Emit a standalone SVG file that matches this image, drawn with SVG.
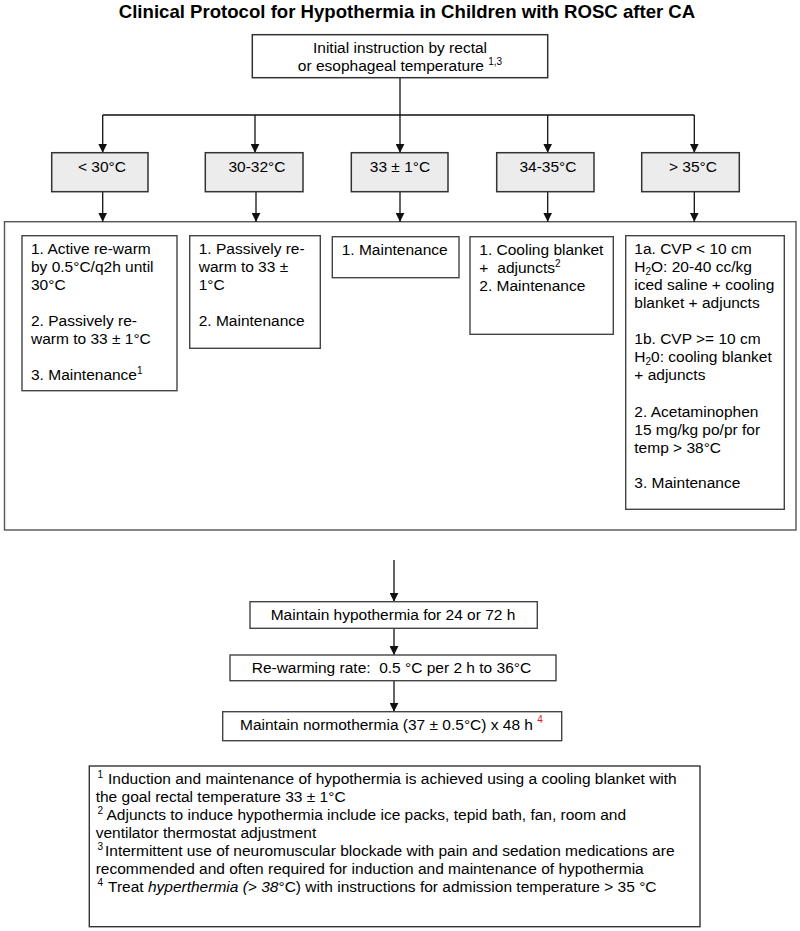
<svg xmlns="http://www.w3.org/2000/svg" width="800" height="931" viewBox="0 0 800 931">
<style>
text{font-family:"Liberation Sans",Arial,Helvetica,sans-serif;font-size:15.5px;fill:#000}
.title{font-size:18.6px;font-weight:bold}
.c{text-anchor:middle}
.sup{font-size:10px}
.temp rect{fill:#ececec;stroke:#333;stroke-width:1.5}
.box{fill:#fff;stroke:#444;stroke-width:1.4}
.big{fill:#fff;stroke:#555;stroke-width:1.4}
.ln{stroke:#111;stroke-width:1.3;fill:none}
.ar{stroke:#111;stroke-width:1.3;fill:none;marker-end:url(#ah)}
</style>
<defs>
<marker id="ah" markerUnits="userSpaceOnUse" markerWidth="9" markerHeight="9" viewBox="0 0 9 9" refX="9" refY="4.5" orient="auto">
<path d="M0,0 L9,4.5 L0,9 z" fill="#111"/>
</marker>
</defs>
<rect width="800" height="931" fill="#fff"/>
<text class="title c" x="407" y="17.5">Clinical Protocol for Hypothermia in Children with ROSC after CA</text>

<g id="big-box"><rect class="big" x="4.5" y="221.7" width="791.5" height="308.3"/></g>

<g id="connectors">
<path class="ln" d="M400,77.7 V115 M102.7,115 H694.3"/>
<path class="ar" d="M102.7,115 V152.7"/>
<path class="ar" d="M255,115 V152.7"/>
<path class="ar" d="M400,115 V152.7"/>
<path class="ar" d="M547.7,115 V152.7"/>
<path class="ar" d="M694.3,115 V152.7"/>
<path class="ar" d="M102.7,191.7 V221.7"/>
<path class="ar" d="M256,191.7 V221.7"/>
<path class="ar" d="M400,191.7 V221.7"/>
<path class="ar" d="M547.7,191.7 V221.7"/>
<path class="ar" d="M694.3,191.7 V221.7"/>
<path class="ar" d="M394,560 V601.7"/>
<path class="ar" d="M394,628.3 V655"/>
<path class="ar" d="M394,680.7 V711.7"/>
</g>

<g id="start">
<rect class="box" x="252.3" y="34.7" width="295.4" height="43" style="stroke:#333;stroke-width:1.5"/>
<text class="c" x="400" y="52.7">Initial instruction by rectal</text>
<text class="c" x="400" y="70.7">or esophageal temperature <tspan class="sup" dy="-6">1,3</tspan></text>
</g>

<g id="t1" class="temp"><rect x="51.7" y="152.7" width="96.3" height="39"/><text class="c" x="102" y="171.5">&lt; 30°C</text></g>
<g id="t2" class="temp"><rect x="205.3" y="152.7" width="97.7" height="39"/><text class="c" x="257" y="171.5">30-32°C</text></g>
<g id="t3" class="temp"><rect x="351.3" y="152.7" width="96.7" height="39"/><text class="c" x="400" y="171.5">33 ± 1°C</text></g>
<g id="t4" class="temp"><rect x="496.7" y="152.7" width="97.3" height="39"/><text class="c" x="548" y="171.5">34-35°C</text></g>
<g id="t5" class="temp"><rect x="641.7" y="152.7" width="97.6" height="39"/><text class="c" x="693" y="171.5">&gt; 35°C</text></g>

<g id="a1">
<rect class="box" x="22" y="235.7" width="155" height="155"/>
<text x="31" y="254.3">1. Active re-warm</text>
<text x="31" y="272.3">by 0.5°C/q2h until</text>
<text x="31" y="290.3">30°C</text>
<text x="31" y="326.3">2. Passively re-</text>
<text x="31" y="344.3">warm to 33 ± 1°C</text>
<text x="31" y="380.3">3. Maintenance<tspan class="sup" dy="-6">1</tspan></text>
</g>

<g id="a2">
<rect class="box" x="189.7" y="235.7" width="130.6" height="112.6"/>
<text x="198.7" y="254.3">1. Passively re-</text>
<text x="198.7" y="272.3">warm to 33 ±</text>
<text x="198.7" y="290.3">1°C</text>
<text x="198.7" y="326.3">2. Maintenance</text>
</g>

<g id="a3">
<rect class="box" x="332.3" y="236.7" width="126.7" height="41"/>
<text x="341.7" y="254.5">1. Maintenance</text>
</g>

<g id="a4">
<rect class="box" x="470" y="236.7" width="143.3" height="97.6"/>
<text x="479.3" y="254.7">1. Cooling blanket</text>
<text x="479.3" y="272.7">+<tspan x="497.3">adjuncts</tspan><tspan class="sup" dy="-6">2</tspan></text>
<text x="479.3" y="290.7">2. Maintenance</text>
</g>

<g id="a5">
<rect class="box" x="625.7" y="235.7" width="158.6" height="273.6"/>
<text x="634.3" y="254.3">1a. CVP &lt; 10 cm</text>
<text x="634.3" y="272.3">H<tspan class="sup" dy="3">2</tspan><tspan dy="-3">O: 20-40 cc/kg</tspan></text>
<text x="634.3" y="290.3">iced saline + cooling</text>
<text x="634.3" y="308.3">blanket + adjuncts</text>
<text x="634.3" y="344.3">1b. CVP &gt;= 10 cm</text>
<text x="634.3" y="362.3">H<tspan class="sup" dy="3">2</tspan><tspan dy="-3">0: cooling blanket</tspan></text>
<text x="634.3" y="380.3">+ adjuncts</text>
<text x="634.3" y="416.5">2. Acetaminophen</text>
<text x="634.3" y="434.5">15 mg/kg po/pr for</text>
<text x="634.3" y="452.5">temp &gt; 38°C</text>
<text x="634.3" y="488.3">3. Maintenance</text>
</g>

<g id="b1">
<rect class="box" x="250" y="601.7" width="287.3" height="26.6"/>
<text x="270.7" y="620">Maintain hypothermia for 24 or 72 h</text>
</g>
<g id="b2">
<rect class="box" x="230" y="655" width="326" height="25.7"/>
<text x="251.7" y="672.5" xml:space="preserve">Re-warming rate:  0.5 °C per 2 h to 36°C</text>
</g>
<g id="b3">
<rect class="box" x="222.7" y="711.7" width="339" height="29"/>
<text x="240" y="730">Maintain normothermia (37 ± 0.5°C) x 48 h <tspan class="sup" dy="-7" style="fill:#e02020">4</tspan></text>
</g>

<g id="footnotes">
<rect class="box" x="89.3" y="766" width="610.7" height="160.7" style="stroke:#333"/>
<text class="sup" x="97.5" y="778">1</text>
<text x="108" y="784.3">Induction and maintenance of hypothermia is achieved using a cooling blanket with</text>
<text x="95.7" y="802.2">the goal rectal temperature 33 ± 1°C</text>
<text class="sup" x="97.5" y="814">2</text>
<text x="106.5" y="820.2">Adjuncts to induce hypothermia include ice packs, tepid bath, fan, room and</text>
<text x="95.7" y="838.1">ventilator thermostat adjustment</text>
<text class="sup" x="97.5" y="850">3</text>
<text x="105" y="856">Intermittent use of neuromuscular blockade with pain and sedation medications are</text>
<text x="95.7" y="874">recommended and often required for induction and maintenance of hypothermia</text>
<text class="sup" x="97.5" y="886">4</text>
<text x="108" y="891.8">Treat <tspan font-style="italic">hyperthermia (&gt; 38</tspan>°C) with instructions for admission temperature &gt; 35 °C</text>
</g>
</svg>
